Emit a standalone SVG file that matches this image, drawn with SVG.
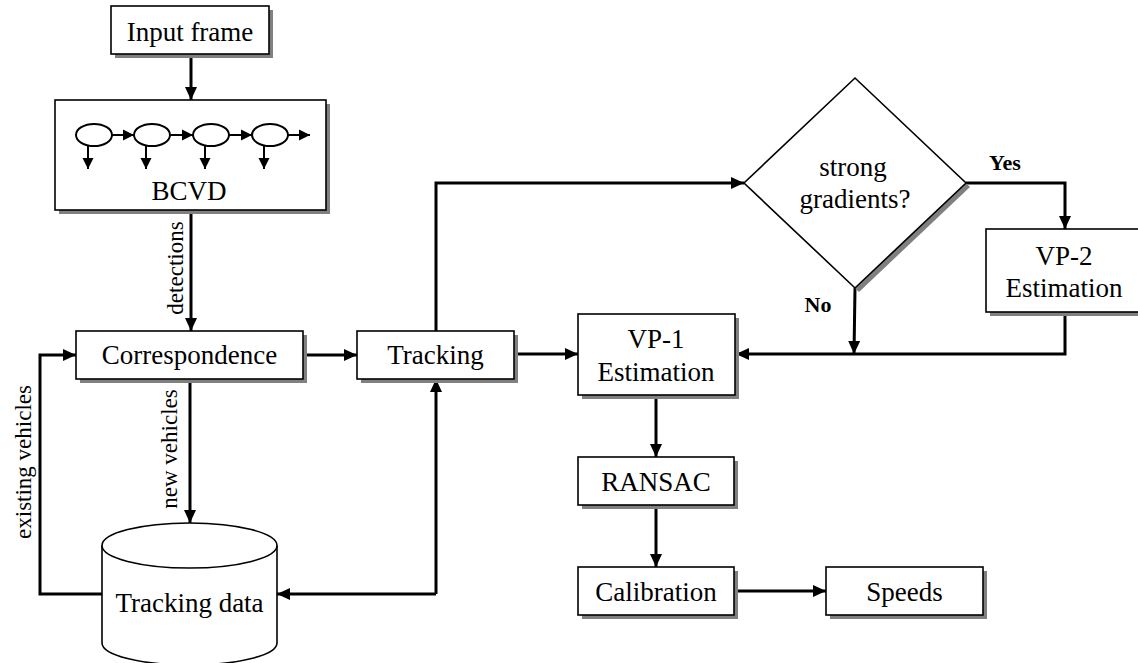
<svg xmlns="http://www.w3.org/2000/svg" width="1138" height="663" viewBox="0 0 1138 663">
<defs>
<style>
.box{fill:#fff;stroke:#000;stroke-width:1.6}
.sh{fill:#808080;stroke:none}
.conn{fill:none;stroke:#000;stroke-width:3}
.thin{fill:none;stroke:#000;stroke-width:2}
.t{font-family:"Liberation Serif","Times New Roman",serif;font-size:27px;text-anchor:middle;fill:#000}
.s{font-family:"Liberation Serif","Times New Roman",serif;font-size:23px;text-anchor:middle;fill:#000}
.b{font-family:"Liberation Serif","Times New Roman",serif;font-size:22px;font-weight:bold;text-anchor:middle;fill:#000}
</style>
<marker id="ah" markerUnits="userSpaceOnUse" markerWidth="14" markerHeight="14" viewBox="0 0 14 14" refX="13" refY="7" orient="auto">
<path d="M0,1 L13,7 L0,13 z" fill="#000"/>
</marker>
<marker id="ahs" markerUnits="userSpaceOnUse" markerWidth="12" markerHeight="12" viewBox="0 0 12 12" refX="11" refY="6" orient="auto">
<path d="M0,0.5 L11,6 L0,11.5 z" fill="#000"/>
</marker>
</defs>
<rect width="1138" height="663" fill="#fff"/>

<g id="connectors">
<path class="conn" d="M191,55 L191,100" marker-end="url(#ah)"/>
<path class="conn" d="M191,210 L191,331" marker-end="url(#ah)"/>
<path class="conn" d="M303,355 L357,355" marker-end="url(#ah)"/>
<path class="conn" d="M190,379 L190,523" marker-end="url(#ah)"/>
<path class="conn" d="M102,594 L40,594 L40,355 L76,355" marker-end="url(#ah)"/>
<path class="conn" d="M436,594 L277,594" marker-end="url(#ah)"/>
<path class="conn" d="M436,594 L436,379" marker-end="url(#ah)"/>
<path class="conn" d="M436,331 L436,183 L744,183" marker-end="url(#ah)"/>
<path class="conn" d="M514,354 L578,354" marker-end="url(#ah)"/>
<path class="conn" d="M966,183 L1065,183 L1065,229" marker-end="url(#ah)"/>
<path class="conn" d="M855,288 L854,354" marker-end="url(#ah)"/>
<path class="conn" d="M1065,312 L1065,354 L736,354" marker-end="url(#ah)"/>
<path class="conn" d="M656,395 L656,457" marker-end="url(#ah)"/>
<path class="conn" d="M656,505 L656,567" marker-end="url(#ah)"/>
<path class="conn" d="M734,591 L826,591" marker-end="url(#ah)"/>
<text class="s" transform="translate(183,268) rotate(-90)">detections</text>
<text class="s" transform="translate(177,449) rotate(-90)">new vehicles</text>
<text class="s" transform="translate(31,462) rotate(-90)">existing vehicles</text>
<text class="b" x="1005" y="170">Yes</text>
<text class="b" x="818" y="312">No</text>
</g>

<g id="input-frame">
<rect class="sh" x="115" y="10" width="158" height="48"/>
<rect class="box" x="111" y="6" width="158" height="48"/>
<text class="t" x="190" y="41">Input frame</text>
</g>

<g id="bcvd">
<rect class="sh" x="59" y="104" width="271" height="110"/>
<rect class="box" x="55" y="100" width="271" height="110"/>
<g>
<ellipse class="thin" cx="94" cy="135" rx="18" ry="11" fill="#fff"/>
<ellipse class="thin" cx="152" cy="135" rx="18" ry="11" fill="#fff"/>
<ellipse class="thin" cx="211" cy="135" rx="18" ry="11" fill="#fff"/>
<ellipse class="thin" cx="270" cy="135" rx="18" ry="11" fill="#fff"/>
<path class="thin" d="M112,135 L134,135" marker-end="url(#ahs)"/>
<path class="thin" d="M170,135 L193,135" marker-end="url(#ahs)"/>
<path class="thin" d="M229,135 L252,135" marker-end="url(#ahs)"/>
<path class="thin" d="M288,135 L310,135" marker-end="url(#ahs)"/>
<path class="thin" d="M88,145 L88,169" marker-end="url(#ahs)"/>
<path class="thin" d="M146,145 L146,169" marker-end="url(#ahs)"/>
<path class="thin" d="M205,145 L205,169" marker-end="url(#ahs)"/>
<path class="thin" d="M264,145 L264,169" marker-end="url(#ahs)"/>
</g>
<text class="t" x="189" y="200">BCVD</text>
</g>

<g id="correspondence">
<rect class="sh" x="80" y="335" width="227" height="48"/>
<rect class="box" x="76" y="331" width="227" height="48"/>
<text class="t" x="189.5" y="364">Correspondence</text>
</g>

<g id="tracking">
<rect class="sh" x="361" y="335" width="157" height="48"/>
<rect class="box" x="357" y="331" width="157" height="48"/>
<text class="t" x="435.5" y="364">Tracking</text>
</g>

<g id="tracking-data">
<path class="box" d="M102,545.5 L102,643 A87.5,22 0 0 0 277,643 L277,545.5"/>
<ellipse class="box" cx="189.5" cy="545.5" rx="87.5" ry="22.5"/>
<text class="t" x="189.5" y="612">Tracking data</text>
</g>

<g id="decision">
<polygon class="sh" points="859,82 970,187 859,292 748,187"/>
<polygon class="box" points="855,78 966,183 855,288 744,183"/>
<text class="t" x="853" y="176">strong</text>
<text class="t" x="855" y="208">gradients?</text>
</g>

<g id="vp2">
<rect class="sh" x="990" y="233" width="157" height="83"/>
<rect class="box" x="986" y="229" width="157" height="83"/>
<text class="t" x="1064" y="265">VP-2</text>
<text class="t" x="1064" y="297">Estimation</text>
</g>

<g id="vp1">
<rect class="sh" x="582" y="318" width="157" height="81"/>
<rect class="box" x="578" y="314" width="157" height="81"/>
<text class="t" x="656" y="348">VP-1</text>
<text class="t" x="656" y="381">Estimation</text>
</g>

<g id="ransac">
<rect class="sh" x="582" y="461" width="156" height="48"/>
<rect class="box" x="578" y="457" width="156" height="48"/>
<text class="t" x="656" y="491">RANSAC</text>
</g>

<g id="calibration">
<rect class="sh" x="582" y="571" width="156" height="48"/>
<rect class="box" x="578" y="567" width="156" height="48"/>
<text class="t" x="656" y="601">Calibration</text>
</g>

<g id="speeds">
<rect class="sh" x="830" y="571" width="157" height="48"/>
<rect class="box" x="826" y="567" width="157" height="48"/>
<text class="t" x="904.5" y="601">Speeds</text>
</g>
</svg>
